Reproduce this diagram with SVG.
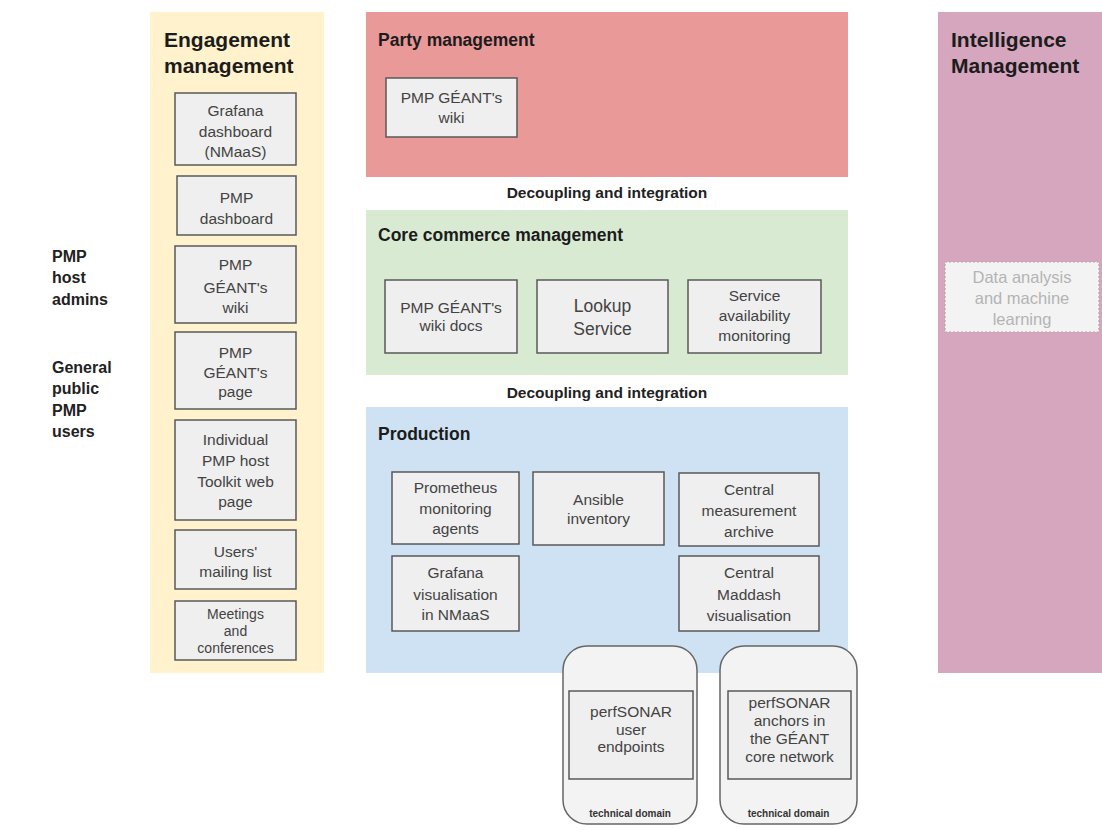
<svg xmlns="http://www.w3.org/2000/svg" width="1102" height="830" viewBox="0 0 1102 830">
<style>
text{font-family:"Liberation Sans",Arial,sans-serif;}
.t{font-size:15.5px;fill:#434343;text-anchor:middle;}
.big{font-size:17.5px;}
.h{font-size:17.5px;font-weight:bold;fill:#1c1c1c;}
.hs{font-size:21px;font-weight:bold;fill:#1c1c1c;}
.dec{font-size:15.5px;font-weight:bold;fill:#222;text-anchor:middle;}
.lab{font-size:16px;font-weight:bold;fill:#222;}
.box{fill:#efefef;stroke:#595959;stroke-width:1.5;}
.td{fill:#f3f3f3;stroke:#666;stroke-width:1.5;}
.tdl{font-size:10px;font-weight:bold;fill:#333;text-anchor:middle;}
.da{font-size:16.5px;fill:#b4b4b4;text-anchor:middle;}
</style>
<rect width="1102" height="830" fill="#ffffff"/>

<g id="actors">
<text class="lab" x="52" y="262">PMP</text>
<text class="lab" x="52" y="283">host</text>
<text class="lab" x="52" y="305">admins</text>
<text class="lab" x="52" y="373">General</text>
<text class="lab" x="52" y="394">public</text>
<text class="lab" x="52" y="416">PMP</text>
<text class="lab" x="52" y="437">users</text>
</g>

<g id="engagement">
<rect x="150" y="12" width="174" height="661" fill="#fff2cc"/>
<text class="hs" x="164" y="47">Engagement</text>
<text class="hs" x="164" y="73">management</text>
</g>
<g id="eng-grafana">
<rect class="box" x="175" y="93" width="121" height="72"/>
<text class="t" x="235.5" y="116">Grafana</text>
<text class="t" x="235.5" y="137">dashboard</text>
<text class="t" x="235.5" y="157">(NMaaS)</text>
</g>
<g id="eng-pmp-dashboard">
<rect class="box" x="177" y="176" width="119" height="59"/>
<text class="t" x="236.5" y="203">PMP</text>
<text class="t" x="236.5" y="224">dashboard</text>
</g>
<g id="eng-wiki">
<rect class="box" x="175" y="246" width="121" height="77"/>
<text class="t" x="235.5" y="270">PMP</text>
<text class="t" x="235.5" y="293">GÉANT's</text>
<text class="t" x="235.5" y="313">wiki</text>
</g>
<g id="eng-page">
<rect class="box" x="175" y="332" width="121" height="77"/>
<text class="t" x="235.5" y="358">PMP</text>
<text class="t" x="235.5" y="378">GÉANT's</text>
<text class="t" x="235.5" y="397">page</text>
</g>
<g id="eng-toolkit">
<rect class="box" x="175" y="420" width="121" height="100"/>
<text class="t" x="235.5" y="445">Individual</text>
<text class="t" x="235.5" y="466">PMP host</text>
<text class="t" x="235.5" y="487">Toolkit web</text>
<text class="t" x="235.5" y="507">page</text>
</g>
<g id="eng-mailing">
<rect class="box" x="175" y="530" width="121" height="59"/>
<text class="t" x="235.5" y="557">Users'</text>
<text class="t" x="235.5" y="577">mailing list</text>
</g>
<g id="eng-meetings">
<rect class="box" x="175" y="601" width="121" height="59"/>
<text class="t" x="235.5" y="619" style="font-size:14px">Meetings</text>
<text class="t" x="235.5" y="636" style="font-size:14px">and</text>
<text class="t" x="235.5" y="653" style="font-size:14px">conferences</text>
</g>

<g id="party">
<rect x="366" y="12" width="482" height="165" fill="#ea9999"/>
<text class="h" x="378" y="46">Party management</text>
</g>
<g id="party-wiki">
<rect class="box" x="386" y="78" width="131" height="59"/>
<text class="t" x="451.5" y="103">PMP GÉANT's</text>
<text class="t" x="451.5" y="123">wiki</text>
</g>

<g id="decoupling-1">
<text class="dec" x="607" y="198">Decoupling and integration</text>
</g>

<g id="core">
<rect x="366" y="210" width="482" height="165" fill="#d9ead3"/>
<text class="h" x="378" y="241">Core commerce management</text>
</g>
<g id="core-wiki-docs">
<rect class="box" x="385" y="280" width="132" height="73"/>
<text class="t" x="451" y="313">PMP GÉANT's</text>
<text class="t" x="451" y="331">wiki docs</text>
</g>
<g id="core-lookup">
<rect class="box" x="537" y="280" width="131" height="73"/>
<text class="t big" x="602.5" y="312">Lookup</text>
<text class="t big" x="602.5" y="335">Service</text>
</g>
<g id="core-availability">
<rect class="box" x="688" y="280" width="133" height="73"/>
<text class="t" x="754.5" y="301">Service</text>
<text class="t" x="754.5" y="321">availability</text>
<text class="t" x="754.5" y="341">monitoring</text>
</g>

<g id="decoupling-2">
<text class="dec" x="607" y="398">Decoupling and integration</text>
</g>

<g id="production">
<rect x="366" y="407" width="482" height="266" fill="#cfe2f3"/>
<text class="h" x="378" y="440">Production</text>
</g>
<g id="prod-prometheus">
<rect class="box" x="392" y="472" width="127" height="72"/>
<text class="t" x="455.5" y="493">Prometheus</text>
<text class="t" x="455.5" y="514">monitoring</text>
<text class="t" x="455.5" y="534">agents</text>
</g>
<g id="prod-ansible">
<rect class="box" x="533" y="472" width="131" height="73"/>
<text class="t" x="598.5" y="505">Ansible</text>
<text class="t" x="598.5" y="524">inventory</text>
</g>
<g id="prod-archive">
<rect class="box" x="679" y="473" width="140" height="73"/>
<text class="t" x="749" y="495">Central</text>
<text class="t" x="749" y="516">measurement</text>
<text class="t" x="749" y="537">archive</text>
</g>
<g id="prod-grafana">
<rect class="box" x="392" y="556" width="127" height="75"/>
<text class="t" x="455.5" y="578">Grafana</text>
<text class="t" x="455.5" y="600">visualisation</text>
<text class="t" x="455.5" y="620">in NMaaS</text>
</g>
<g id="prod-maddash">
<rect class="box" x="679" y="556" width="140" height="75"/>
<text class="t" x="749" y="578">Central</text>
<text class="t" x="749" y="600">Maddash</text>
<text class="t" x="749" y="621">visualisation</text>
</g>

<g id="domain-user">
<rect class="td" x="563" y="646" width="134" height="178" rx="24"/>
<rect class="box" x="569" y="691" width="124" height="88"/>
<text class="t" x="631" y="717">perfSONAR</text>
<text class="t" x="631" y="735">user</text>
<text class="t" x="631" y="752">endpoints</text>
<text class="tdl" x="630" y="817">technical domain</text>
</g>
<g id="domain-geant">
<rect class="td" x="720" y="646" width="137" height="178" rx="24"/>
<rect class="box" x="728" y="691" width="123" height="88"/>
<text class="t" x="789.5" y="708">perfSONAR</text>
<text class="t" x="789.5" y="726">anchors in</text>
<text class="t" x="789.5" y="744">the GÉANT</text>
<text class="t" x="789.5" y="762">core network</text>
<text class="tdl" x="788.5" y="817">technical domain</text>
</g>

<g id="intelligence">
<rect x="938" y="12" width="164" height="661" fill="#d5a6bd"/>
<text class="hs" x="951" y="47">Intelligence</text>
<text class="hs" x="951" y="73">Management</text>
</g>
<g id="intel-data-analysis">
<rect x="945" y="262" width="154" height="70" fill="#f3f3f3" stroke="#b9a3ad" stroke-width="1.2" stroke-dasharray="2,2"/>
<text class="da" x="1022" y="283">Data analysis</text>
<text class="da" x="1022" y="304">and machine</text>
<text class="da" x="1022" y="325">learning</text>
</g>

<g id="connectors"></g>
</svg>
